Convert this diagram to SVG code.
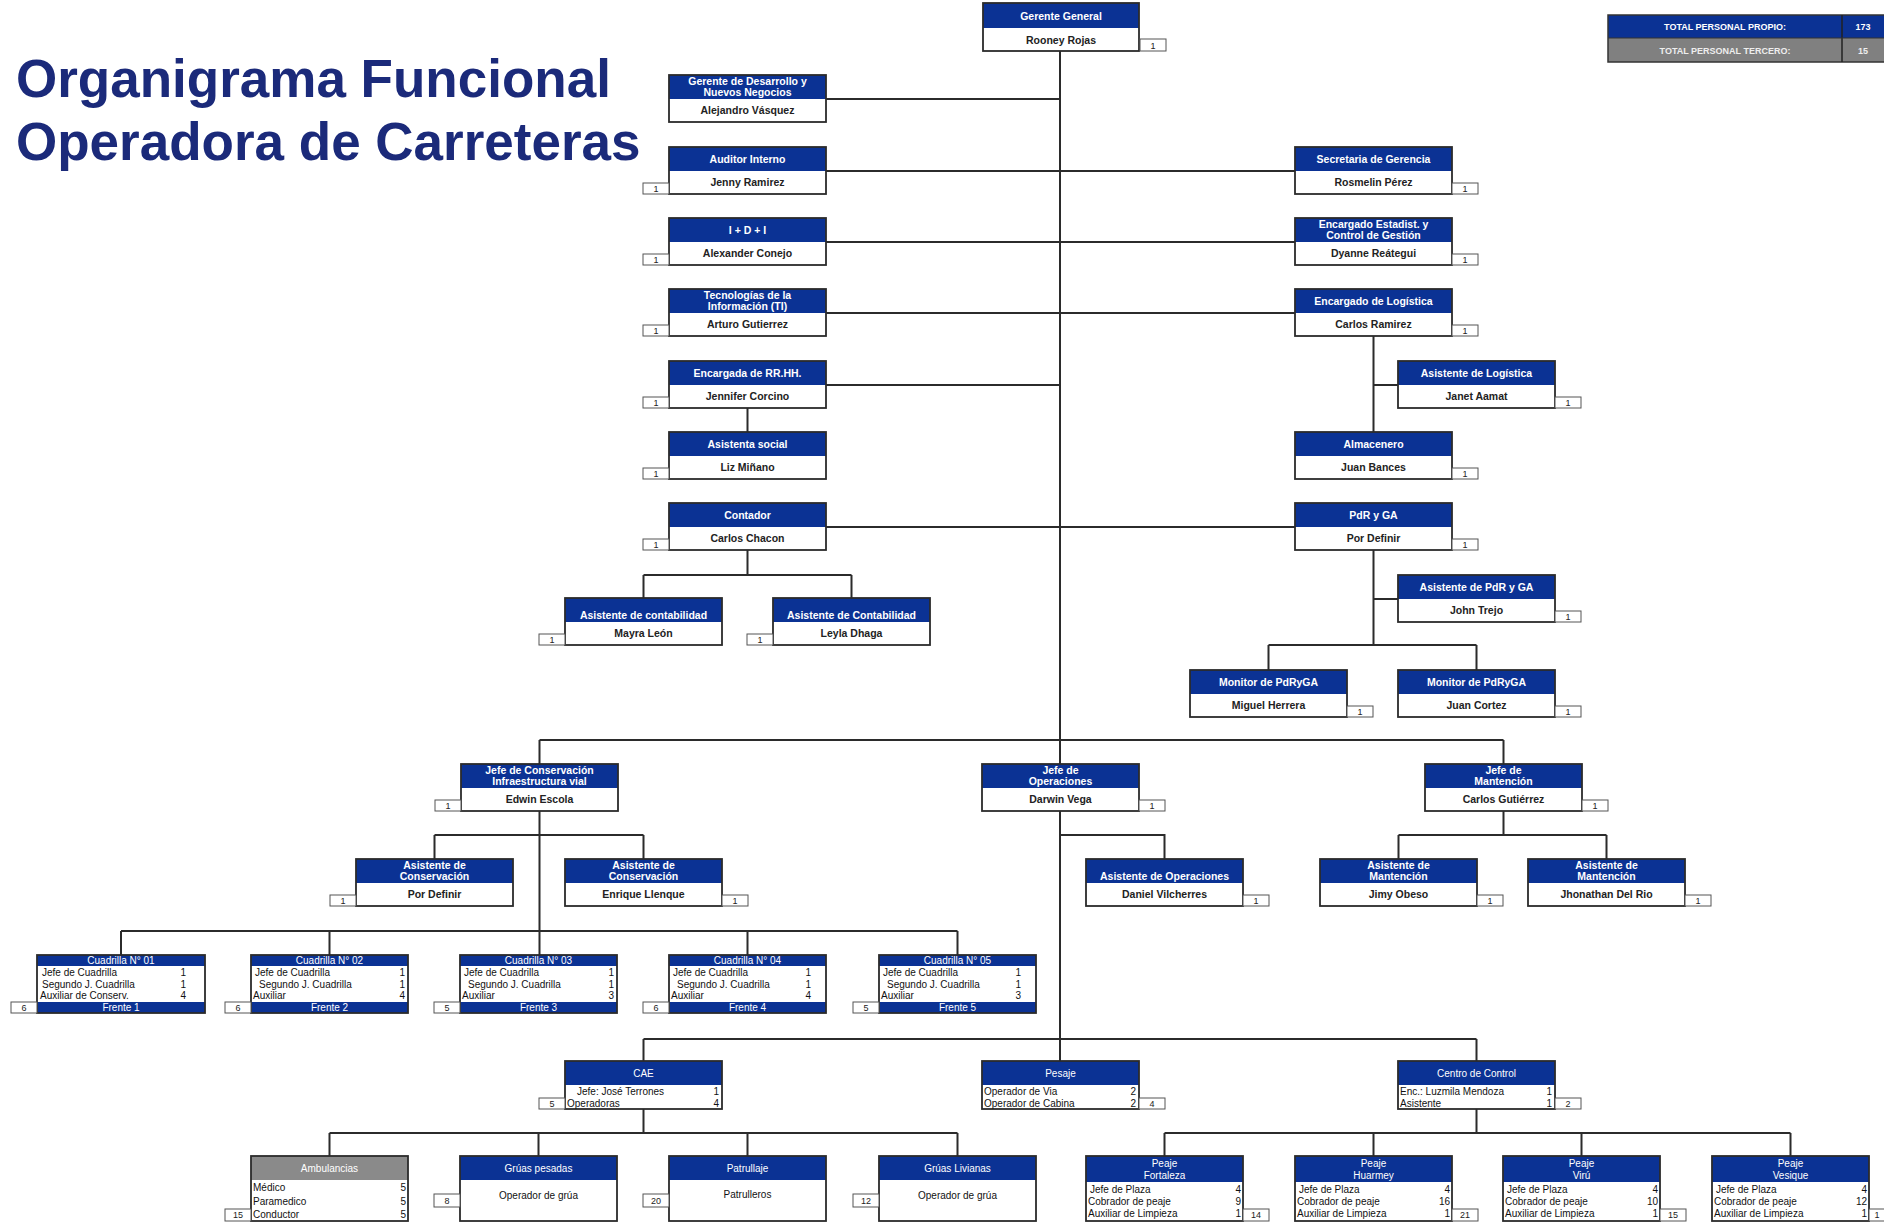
<svg xmlns="http://www.w3.org/2000/svg" width="1884" height="1232" viewBox="0 0 1884 1232">
<style>
.b{fill:#fff}
.h{fill:#0b3294}
.g{fill:#8a8a8a}
.f{fill:none;stroke:#2b2b2b;stroke-width:1.8}
.c{fill:#fff;stroke:#555;stroke-width:1}
.ht{font-family:"Liberation Sans",Arial,sans-serif;font-weight:bold;font-size:10.5px;fill:#fff;text-anchor:middle}
.nt{font-family:"Liberation Sans",Arial,sans-serif;font-weight:bold;font-size:10.5px;fill:#222;text-anchor:middle}
.ct{font-family:"Liberation Sans",Arial,sans-serif;font-size:9px;fill:#222;text-anchor:middle}
.rt{font-family:"Liberation Sans Narrow","Arial Narrow","Liberation Sans",sans-serif;font-size:10px;fill:#111}
.rn{text-anchor:end}
.wt{fill:#fff;text-anchor:middle}
.conn path{fill:none;stroke:#2b2b2b;stroke-width:2}
.title{font-family:"Liberation Sans",Arial,sans-serif;font-weight:bold;font-size:53px;fill:#1b2a7a}
.tt{font-family:"Liberation Sans",Arial,sans-serif;font-weight:bold;font-size:9px;text-anchor:middle}
</style>

<text class="title" x="16" y="97">Organigrama Funcional</text>
<text class="title" x="16" y="160">Operadora de Carreteras</text>

<g id="totales">
<rect x="1608" y="15" width="276" height="23" fill="#0b3294"/>
<rect x="1608" y="38" width="276" height="24" fill="#808080"/>
<rect x="1608" y="15" width="278" height="47" fill="none" stroke="#333" stroke-width="1.5"/>
<line x1="1842" y1="15" x2="1842" y2="62" stroke="#222" stroke-width="1.5"/>
<line x1="1608" y1="38" x2="1884" y2="38" stroke="#333" stroke-width="1"/>
<text class="tt" x="1725" y="30" fill="#fff">TOTAL PERSONAL PROPIO:</text>
<text class="tt" x="1863" y="30" fill="#fff">173</text>
<text class="tt" x="1725" y="54" fill="#eee">TOTAL PERSONAL TERCERO:</text>
<text class="tt" x="1863" y="54" fill="#eee">15</text>
</g>

<g class="conn" id="connectors">
<path d="M1060 51V1061"/>
<path d="M826 99H1060M826 171H1060M826 242H1060M826 313H1060M826 385H1060"/>
<path d="M1060 171H1295M1060 242H1295M1060 313H1295"/>
<path d="M826 527H1295"/>
<path d="M747.5 408V432"/>
<path d="M1373.5 336V432M1373.5 385H1398"/>
<path d="M747.5 550V575M643.5 575H851.5M643.5 575V598M851.5 575V598"/>
<path d="M1373.5 550V645M1373.5 599H1398M1268.5 645H1476.5M1268.5 645V670M1476.5 645V670"/>
<path d="M539.5 740H1503.5M539.5 740V764M1503.5 740V764"/>
<path d="M539.5 811V955M434.5 835H643.5M434.5 835V859M643.5 835V859"/>
<path d="M1060 835H1164.5V859"/>
<path d="M1503.5 811V835M1398.5 835H1606.5M1398.5 835V859M1606.5 835V859"/>
<path d="M121 931H957.5M121 931V955M329.5 931V955M747.5 931V955M957.5 931V955"/>
<path d="M643.5 1039H1476.5M643.5 1039V1061M1476.5 1039V1061"/>
<path d="M643.5 1109V1133M329.5 1133H957.5M329.5 1133V1156M538.5 1133V1156M747.5 1133V1156M957.5 1133V1156"/>
<path d="M1476.5 1109V1133M1164.5 1133H1790.5M1164.5 1133V1156M1373.5 1133V1156M1581.5 1133V1156M1790.5 1133V1156"/>
</g>

<g id="gerente-general">
<rect class="b" x="983" y="3" width="156" height="48"/><rect class="h" x="983" y="3" width="156" height="25"/><rect class="f" x="983" y="3" width="156" height="48"/>
<text class="ht" x="1061" y="20" font-size="12">Gerente General</text>
<text class="nt" x="1061" y="44" font-size="12">Rooney Rojas</text>
<rect class="c" x="1140" y="39" width="26" height="12"/><text class="ct" x="1153" y="48.5">1</text>
</g>

<g id="gerente-desarrollo">
<rect class="b" x="669" y="75" width="157" height="47"/><rect class="h" x="669" y="75" width="157" height="24"/><rect class="f" x="669" y="75" width="157" height="47"/>
<text class="ht" x="747.5" y="85">Gerente de Desarrollo y</text>
<text class="ht" x="747.5" y="96">Nuevos Negocios</text>
<text class="nt" x="747.5" y="114">Alejandro Vásquez</text>
</g>

<g id="auditor">
<rect class="b" x="669" y="147" width="157" height="47"/><rect class="h" x="669" y="147" width="157" height="24"/><rect class="f" x="669" y="147" width="157" height="47"/>
<text class="ht" x="747.5" y="163">Auditor Interno</text>
<text class="nt" x="747.5" y="186">Jenny Ramirez</text>
<rect class="c" x="643" y="183" width="26" height="11"/><text class="ct" x="656" y="191.5">1</text>
</g>

<g id="idi">
<rect class="b" x="669" y="218" width="157" height="47"/><rect class="h" x="669" y="218" width="157" height="24"/><rect class="f" x="669" y="218" width="157" height="47"/>
<text class="ht" x="747.5" y="234">I + D + I</text>
<text class="nt" x="747.5" y="257">Alexander Conejo</text>
<rect class="c" x="643" y="254" width="26" height="11"/><text class="ct" x="656" y="262.5">1</text>
</g>

<g id="ti">
<rect class="b" x="669" y="289" width="157" height="47"/><rect class="h" x="669" y="289" width="157" height="24"/><rect class="f" x="669" y="289" width="157" height="47"/>
<text class="ht" x="747.5" y="299">Tecnologías de la</text>
<text class="ht" x="747.5" y="310">Información (TI)</text>
<text class="nt" x="747.5" y="328">Arturo Gutierrez</text>
<rect class="c" x="643" y="325" width="26" height="11"/><text class="ct" x="656" y="333.5">1</text>
</g>

<g id="rrhh">
<rect class="b" x="669" y="361" width="157" height="47"/><rect class="h" x="669" y="361" width="157" height="24"/><rect class="f" x="669" y="361" width="157" height="47"/>
<text class="ht" x="747.5" y="377">Encargada de RR.HH.</text>
<text class="nt" x="747.5" y="400">Jennifer Corcino</text>
<rect class="c" x="643" y="397" width="26" height="11"/><text class="ct" x="656" y="405.5">1</text>
</g>

<g id="asistenta-social">
<rect class="b" x="669" y="432" width="157" height="47"/><rect class="h" x="669" y="432" width="157" height="24"/><rect class="f" x="669" y="432" width="157" height="47"/>
<text class="ht" x="747.5" y="448">Asistenta social</text>
<text class="nt" x="747.5" y="471">Liz Miñano</text>
<rect class="c" x="643" y="468" width="26" height="11"/><text class="ct" x="656" y="476.5">1</text>
</g>

<g id="contador">
<rect class="b" x="669" y="503" width="157" height="47"/><rect class="h" x="669" y="503" width="157" height="24"/><rect class="f" x="669" y="503" width="157" height="47"/>
<text class="ht" x="747.5" y="519">Contador</text>
<text class="nt" x="747.5" y="542">Carlos Chacon</text>
<rect class="c" x="643" y="539" width="26" height="11"/><text class="ct" x="656" y="547.5">1</text>
</g>

<g id="asist-contab-1">
<rect class="b" x="565" y="598" width="157" height="47"/><rect class="h" x="565" y="598" width="157" height="24"/><rect class="f" x="565" y="598" width="157" height="47"/>
<text class="ht" x="643.5" y="619">Asistente de contabilidad</text>
<text class="nt" x="643.5" y="637">Mayra León</text>
<rect class="c" x="539" y="634" width="26" height="11"/><text class="ct" x="552" y="642.5">1</text>
</g>

<g id="asist-contab-2">
<rect class="b" x="773" y="598" width="157" height="47"/><rect class="h" x="773" y="598" width="157" height="24"/><rect class="f" x="773" y="598" width="157" height="47"/>
<text class="ht" x="851.5" y="619">Asistente de Contabilidad</text>
<text class="nt" x="851.5" y="637">Leyla Dhaga</text>
<rect class="c" x="747" y="634" width="26" height="11"/><text class="ct" x="760" y="642.5">1</text>
</g>

<g id="secretaria">
<rect class="b" x="1295" y="147" width="157" height="47"/><rect class="h" x="1295" y="147" width="157" height="24"/><rect class="f" x="1295" y="147" width="157" height="47"/>
<text class="ht" x="1373.5" y="163">Secretaria de Gerencia</text>
<text class="nt" x="1373.5" y="186">Rosmelin Pérez</text>
<rect class="c" x="1452" y="183" width="26" height="11"/><text class="ct" x="1465" y="191.5">1</text>
</g>

<g id="estadistica">
<rect class="b" x="1295" y="218" width="157" height="47"/><rect class="h" x="1295" y="218" width="157" height="24"/><rect class="f" x="1295" y="218" width="157" height="47"/>
<text class="ht" x="1373.5" y="228">Encargado Estadist. y</text>
<text class="ht" x="1373.5" y="239">Control de Gestión</text>
<text class="nt" x="1373.5" y="257">Dyanne Reátegui</text>
<rect class="c" x="1452" y="254" width="26" height="11"/><text class="ct" x="1465" y="262.5">1</text>
</g>

<g id="logistica">
<rect class="b" x="1295" y="289" width="157" height="47"/><rect class="h" x="1295" y="289" width="157" height="24"/><rect class="f" x="1295" y="289" width="157" height="47"/>
<text class="ht" x="1373.5" y="305">Encargado de Logística</text>
<text class="nt" x="1373.5" y="328">Carlos Ramirez</text>
<rect class="c" x="1452" y="325" width="26" height="11"/><text class="ct" x="1465" y="333.5">1</text>
</g>

<g id="asist-logistica">
<rect class="b" x="1398" y="361" width="157" height="47"/><rect class="h" x="1398" y="361" width="157" height="24"/><rect class="f" x="1398" y="361" width="157" height="47"/>
<text class="ht" x="1476.5" y="377">Asistente de Logística</text>
<text class="nt" x="1476.5" y="400">Janet Aamat</text>
<rect class="c" x="1555" y="397" width="26" height="11"/><text class="ct" x="1568" y="405.5">1</text>
</g>

<g id="almacenero">
<rect class="b" x="1295" y="432" width="157" height="47"/><rect class="h" x="1295" y="432" width="157" height="24"/><rect class="f" x="1295" y="432" width="157" height="47"/>
<text class="ht" x="1373.5" y="448">Almacenero</text>
<text class="nt" x="1373.5" y="471">Juan Bances</text>
<rect class="c" x="1452" y="468" width="26" height="11"/><text class="ct" x="1465" y="476.5">1</text>
</g>

<g id="pdr">
<rect class="b" x="1295" y="503" width="157" height="47"/><rect class="h" x="1295" y="503" width="157" height="24"/><rect class="f" x="1295" y="503" width="157" height="47"/>
<text class="ht" x="1373.5" y="519">PdR y GA</text>
<text class="nt" x="1373.5" y="542">Por Definir</text>
<rect class="c" x="1452" y="539" width="26" height="11"/><text class="ct" x="1465" y="547.5">1</text>
</g>

<g id="asist-pdr">
<rect class="b" x="1398" y="575" width="157" height="47"/><rect class="h" x="1398" y="575" width="157" height="24"/><rect class="f" x="1398" y="575" width="157" height="47"/>
<text class="ht" x="1476.5" y="591">Asistente de PdR y GA</text>
<text class="nt" x="1476.5" y="614">John Trejo</text>
<rect class="c" x="1555" y="611" width="26" height="11"/><text class="ct" x="1568" y="619.5">1</text>
</g>

<g id="monitor-1">
<rect class="b" x="1190" y="670" width="157" height="47"/><rect class="h" x="1190" y="670" width="157" height="24"/><rect class="f" x="1190" y="670" width="157" height="47"/>
<text class="ht" x="1268.5" y="686">Monitor de PdRyGA</text>
<text class="nt" x="1268.5" y="709">Miguel Herrera</text>
<rect class="c" x="1347" y="706" width="26" height="11"/><text class="ct" x="1360" y="714.5">1</text>
</g>

<g id="monitor-2">
<rect class="b" x="1398" y="670" width="157" height="47"/><rect class="h" x="1398" y="670" width="157" height="24"/><rect class="f" x="1398" y="670" width="157" height="47"/>
<text class="ht" x="1476.5" y="686">Monitor de PdRyGA</text>
<text class="nt" x="1476.5" y="709">Juan Cortez</text>
<rect class="c" x="1555" y="706" width="26" height="11"/><text class="ct" x="1568" y="714.5">1</text>
</g>

<g id="jefe-conservacion">
<rect class="b" x="461" y="764" width="157" height="47"/><rect class="h" x="461" y="764" width="157" height="24"/><rect class="f" x="461" y="764" width="157" height="47"/>
<text class="ht" x="539.5" y="774">Jefe de Conservación</text>
<text class="ht" x="539.5" y="785">Infraestructura vial</text>
<text class="nt" x="539.5" y="803">Edwin Escola</text>
<rect class="c" x="435" y="800" width="26" height="11"/><text class="ct" x="448" y="808.5">1</text>
</g>

<g id="jefe-operaciones">
<rect class="b" x="982" y="764" width="157" height="47"/><rect class="h" x="982" y="764" width="157" height="24"/><rect class="f" x="982" y="764" width="157" height="47"/>
<text class="ht" x="1060.5" y="774">Jefe de</text>
<text class="ht" x="1060.5" y="785">Operaciones</text>
<text class="nt" x="1060.5" y="803">Darwin Vega</text>
<rect class="c" x="1139" y="800" width="26" height="11"/><text class="ct" x="1152" y="808.5">1</text>
</g>

<g id="jefe-mantencion">
<rect class="b" x="1425" y="764" width="157" height="47"/><rect class="h" x="1425" y="764" width="157" height="24"/><rect class="f" x="1425" y="764" width="157" height="47"/>
<text class="ht" x="1503.5" y="774">Jefe de</text>
<text class="ht" x="1503.5" y="785">Mantención</text>
<text class="nt" x="1503.5" y="803">Carlos Gutiérrez</text>
<rect class="c" x="1582" y="800" width="26" height="11"/><text class="ct" x="1595" y="808.5">1</text>
</g>

<g id="asist-conservacion-1">
<rect class="b" x="356" y="859" width="157" height="47"/><rect class="h" x="356" y="859" width="157" height="24"/><rect class="f" x="356" y="859" width="157" height="47"/>
<text class="ht" x="434.5" y="869">Asistente de</text>
<text class="ht" x="434.5" y="880">Conservación</text>
<text class="nt" x="434.5" y="898">Por Definir</text>
<rect class="c" x="330" y="895" width="26" height="11"/><text class="ct" x="343" y="903.5">1</text>
</g>

<g id="asist-conservacion-2">
<rect class="b" x="565" y="859" width="157" height="47"/><rect class="h" x="565" y="859" width="157" height="24"/><rect class="f" x="565" y="859" width="157" height="47"/>
<text class="ht" x="643.5" y="869">Asistente de</text>
<text class="ht" x="643.5" y="880">Conservación</text>
<text class="nt" x="643.5" y="898">Enrique Llenque</text>
<rect class="c" x="722" y="895" width="26" height="11"/><text class="ct" x="735" y="903.5">1</text>
</g>

<g id="asist-operaciones">
<rect class="b" x="1086" y="859" width="157" height="47"/><rect class="h" x="1086" y="859" width="157" height="24"/><rect class="f" x="1086" y="859" width="157" height="47"/>
<text class="ht" x="1164.5" y="880">Asistente de Operaciones</text>
<text class="nt" x="1164.5" y="898">Daniel Vilcherres</text>
<rect class="c" x="1243" y="895" width="26" height="11"/><text class="ct" x="1256" y="903.5">1</text>
</g>

<g id="asist-mantencion-1">
<rect class="b" x="1320" y="859" width="157" height="47"/><rect class="h" x="1320" y="859" width="157" height="24"/><rect class="f" x="1320" y="859" width="157" height="47"/>
<text class="ht" x="1398.5" y="869">Asistente de</text>
<text class="ht" x="1398.5" y="880">Mantención</text>
<text class="nt" x="1398.5" y="898">Jimy Obeso</text>
<rect class="c" x="1477" y="895" width="26" height="11"/><text class="ct" x="1490" y="903.5">1</text>
</g>

<g id="asist-mantencion-2">
<rect class="b" x="1528" y="859" width="157" height="47"/><rect class="h" x="1528" y="859" width="157" height="24"/><rect class="f" x="1528" y="859" width="157" height="47"/>
<text class="ht" x="1606.5" y="869">Asistente de</text>
<text class="ht" x="1606.5" y="880">Mantención</text>
<text class="nt" x="1606.5" y="898">Jhonathan Del Rio</text>
<rect class="c" x="1685" y="895" width="26" height="11"/><text class="ct" x="1698" y="903.5">1</text>
</g>

<g id="cuadrilla-01">
<rect class="b" x="37" y="955" width="168" height="58"/><rect class="h" x="37" y="955" width="168" height="11"/><rect class="h" x="37" y="1002" width="168" height="11"/><rect class="f" x="37" y="955" width="168" height="58"/>
<text class="rt wt" x="121" y="964">Cuadrilla N° 01</text>
<text class="rt" x="42" y="976">Jefe de Cuadrilla</text><text class="rt rn" x="186" y="976">1</text>
<text class="rt" x="42" y="988">Segundo J. Cuadrilla</text><text class="rt rn" x="186" y="988">1</text>
<text class="rt" x="40" y="999">Auxiliar de Conserv.</text><text class="rt rn" x="186" y="999">4</text>
<text class="rt wt" x="121" y="1011">Frente 1</text>
<rect class="c" x="11" y="1002" width="26" height="11"/><text class="ct" x="24" y="1010.5">6</text>
</g>

<g id="cuadrilla-02">
<rect class="b" x="251" y="955" width="157" height="58"/><rect class="h" x="251" y="955" width="157" height="11"/><rect class="h" x="251" y="1002" width="157" height="11"/><rect class="f" x="251" y="955" width="157" height="58"/>
<text class="rt wt" x="329.5" y="964">Cuadrilla N° 02</text>
<text class="rt" x="255" y="976">Jefe de Cuadrilla</text><text class="rt rn" x="405" y="976">1</text>
<text class="rt" x="259" y="988">Segundo J. Cuadrilla</text><text class="rt rn" x="405" y="988">1</text>
<text class="rt" x="253" y="999">Auxiliar</text><text class="rt rn" x="405" y="999">4</text>
<text class="rt wt" x="329.5" y="1011">Frente 2</text>
<rect class="c" x="225" y="1002" width="26" height="11"/><text class="ct" x="238" y="1010.5">6</text>
</g>

<g id="cuadrilla-03">
<rect class="b" x="460" y="955" width="157" height="58"/><rect class="h" x="460" y="955" width="157" height="11"/><rect class="h" x="460" y="1002" width="157" height="11"/><rect class="f" x="460" y="955" width="157" height="58"/>
<text class="rt wt" x="538.5" y="964">Cuadrilla N° 03</text>
<text class="rt" x="464" y="976">Jefe de Cuadrilla</text><text class="rt rn" x="614" y="976">1</text>
<text class="rt" x="468" y="988">Segundo J. Cuadrilla</text><text class="rt rn" x="614" y="988">1</text>
<text class="rt" x="462" y="999">Auxiliar</text><text class="rt rn" x="614" y="999">3</text>
<text class="rt wt" x="538.5" y="1011">Frente 3</text>
<rect class="c" x="434" y="1002" width="26" height="11"/><text class="ct" x="447" y="1010.5">5</text>
</g>

<g id="cuadrilla-04">
<rect class="b" x="669" y="955" width="157" height="58"/><rect class="h" x="669" y="955" width="157" height="11"/><rect class="h" x="669" y="1002" width="157" height="11"/><rect class="f" x="669" y="955" width="157" height="58"/>
<text class="rt wt" x="747.5" y="964">Cuadrilla N° 04</text>
<text class="rt" x="673" y="976">Jefe de Cuadrilla</text><text class="rt rn" x="811" y="976">1</text>
<text class="rt" x="677" y="988">Segundo J. Cuadrilla</text><text class="rt rn" x="811" y="988">1</text>
<text class="rt" x="671" y="999">Auxiliar</text><text class="rt rn" x="811" y="999">4</text>
<text class="rt wt" x="747.5" y="1011">Frente 4</text>
<rect class="c" x="643" y="1002" width="26" height="11"/><text class="ct" x="656" y="1010.5">6</text>
</g>

<g id="cuadrilla-05">
<rect class="b" x="879" y="955" width="157" height="58"/><rect class="h" x="879" y="955" width="157" height="11"/><rect class="h" x="879" y="1002" width="157" height="11"/><rect class="f" x="879" y="955" width="157" height="58"/>
<text class="rt wt" x="957.5" y="964">Cuadrilla N° 05</text>
<text class="rt" x="883" y="976">Jefe de Cuadrilla</text><text class="rt rn" x="1021" y="976">1</text>
<text class="rt" x="887" y="988">Segundo J. Cuadrilla</text><text class="rt rn" x="1021" y="988">1</text>
<text class="rt" x="881" y="999">Auxiliar</text><text class="rt rn" x="1021" y="999">3</text>
<text class="rt wt" x="957.5" y="1011">Frente 5</text>
<rect class="c" x="853" y="1002" width="26" height="11"/><text class="ct" x="866" y="1010.5">5</text>
</g>

<g id="cae">
<rect class="b" x="565" y="1061" width="157" height="48"/><rect class="h" x="565" y="1061" width="157" height="24"/><rect class="f" x="565" y="1061" width="157" height="48"/>
<text class="rt wt" x="643.5" y="1077">CAE</text>
<text class="rt" x="577" y="1095">Jefe: José Terrones</text><text class="rt rn" x="719" y="1095">1</text>
<text class="rt" x="567" y="1107">Operadoras</text><text class="rt rn" x="719" y="1107">4</text>
<rect class="c" x="539" y="1098" width="26" height="11"/><text class="ct" x="552" y="1106.5">5</text>
</g>

<g id="pesaje">
<rect class="b" x="982" y="1061" width="157" height="48"/><rect class="h" x="982" y="1061" width="157" height="24"/><rect class="f" x="982" y="1061" width="157" height="48"/>
<text class="rt wt" x="1060.5" y="1077">Pesaje</text>
<text class="rt" x="984" y="1095">Operador de Via</text><text class="rt rn" x="1136" y="1095">2</text>
<text class="rt" x="984" y="1107">Operador de Cabina</text><text class="rt rn" x="1136" y="1107">2</text>
<rect class="c" x="1139" y="1098" width="26" height="11"/><text class="ct" x="1152" y="1106.5">4</text>
</g>

<g id="centro-control">
<rect class="b" x="1398" y="1061" width="157" height="48"/><rect class="h" x="1398" y="1061" width="157" height="24"/><rect class="f" x="1398" y="1061" width="157" height="48"/>
<text class="rt wt" x="1476.5" y="1077">Centro de Control</text>
<text class="rt" x="1400" y="1095" font-size="9">Enc.: Luzmila Mendoza</text><text class="rt rn" x="1552" y="1095">1</text>
<text class="rt" x="1400" y="1107">Asistente</text><text class="rt rn" x="1552" y="1107">1</text>
<rect class="c" x="1555" y="1098" width="26" height="11"/><text class="ct" x="1568" y="1106.5">2</text>
</g>

<g id="ambulancias">
<rect class="b" x="251" y="1156" width="157" height="65"/><rect class="g" x="251" y="1156" width="157" height="24"/><rect class="f" x="251" y="1156" width="157" height="65"/>
<text class="rt wt" x="329.5" y="1172">Ambulancias</text>
<text class="rt" x="253" y="1191">Médico</text><text class="rt rn" x="406" y="1191">5</text>
<text class="rt" x="253" y="1205">Paramedico</text><text class="rt rn" x="406" y="1205">5</text>
<text class="rt" x="253" y="1218">Conductor</text><text class="rt rn" x="406" y="1218">5</text>
<rect class="c" x="225" y="1209" width="26" height="12"/><text class="ct" x="238" y="1218">15</text>
</g>

<g id="gruas-pesadas">
<rect class="b" x="460" y="1156" width="157" height="65"/><rect class="h" x="460" y="1156" width="157" height="24"/><rect class="f" x="460" y="1156" width="157" height="65"/>
<text class="rt wt" x="538.5" y="1172">Grúas pesadas</text>
<text class="rt" x="538.5" y="1199" text-anchor="middle">Operador de grúa</text>
<rect class="c" x="434" y="1194" width="26" height="13"/><text class="ct" x="447" y="1203.5">8</text>
</g>

<g id="patrullaje">
<rect class="b" x="669" y="1156" width="157" height="65"/><rect class="h" x="669" y="1156" width="157" height="24"/><rect class="f" x="669" y="1156" width="157" height="65"/>
<text class="rt wt" x="747.5" y="1172">Patrullaje</text>
<text class="rt" x="747.5" y="1198" text-anchor="middle">Patrulleros</text>
<rect class="c" x="643" y="1194" width="26" height="13"/><text class="ct" x="656" y="1203.5">20</text>
</g>

<g id="gruas-livianas">
<rect class="b" x="879" y="1156" width="157" height="65"/><rect class="h" x="879" y="1156" width="157" height="24"/><rect class="f" x="879" y="1156" width="157" height="65"/>
<text class="rt wt" x="957.5" y="1172">Grúas Livianas</text>
<text class="rt" x="957.5" y="1199" text-anchor="middle">Operador de grúa</text>
<rect class="c" x="853" y="1194" width="26" height="13"/><text class="ct" x="866" y="1203.5">12</text>
</g>

<g id="peaje-fortaleza">
<rect class="b" x="1086" y="1156" width="157" height="65"/><rect class="h" x="1086" y="1156" width="157" height="26"/><rect class="f" x="1086" y="1156" width="157" height="65"/>
<text class="rt wt" x="1164.5" y="1167">Peaje</text><text class="rt wt" x="1164.5" y="1179">Fortaleza</text>
<text class="rt" x="1090" y="1193">Jefe de Plaza</text><text class="rt rn" x="1241" y="1193">4</text>
<text class="rt" x="1088" y="1205">Cobrador de peaje</text><text class="rt rn" x="1241" y="1205">9</text>
<text class="rt" x="1088" y="1217">Auxiliar de Limpieza</text><text class="rt rn" x="1241" y="1217">1</text>
<rect class="c" x="1243" y="1209" width="26" height="12"/><text class="ct" x="1256" y="1218">14</text>
</g>

<g id="peaje-huarmey">
<rect class="b" x="1295" y="1156" width="157" height="65"/><rect class="h" x="1295" y="1156" width="157" height="26"/><rect class="f" x="1295" y="1156" width="157" height="65"/>
<text class="rt wt" x="1373.5" y="1167">Peaje</text><text class="rt wt" x="1373.5" y="1179">Huarmey</text>
<text class="rt" x="1299" y="1193">Jefe de Plaza</text><text class="rt rn" x="1450" y="1193">4</text>
<text class="rt" x="1297" y="1205">Cobrador de peaje</text><text class="rt rn" x="1450" y="1205">16</text>
<text class="rt" x="1297" y="1217">Auxiliar de Limpieza</text><text class="rt rn" x="1450" y="1217">1</text>
<rect class="c" x="1452" y="1209" width="26" height="12"/><text class="ct" x="1465" y="1218">21</text>
</g>

<g id="peaje-viru">
<rect class="b" x="1503" y="1156" width="157" height="65"/><rect class="h" x="1503" y="1156" width="157" height="26"/><rect class="f" x="1503" y="1156" width="157" height="65"/>
<text class="rt wt" x="1581.5" y="1167">Peaje</text><text class="rt wt" x="1581.5" y="1179">Virú</text>
<text class="rt" x="1507" y="1193">Jefe de Plaza</text><text class="rt rn" x="1658" y="1193">4</text>
<text class="rt" x="1505" y="1205">Cobrador de peaje</text><text class="rt rn" x="1658" y="1205">10</text>
<text class="rt" x="1505" y="1217">Auxiliar de Limpieza</text><text class="rt rn" x="1658" y="1217">1</text>
<rect class="c" x="1660" y="1209" width="26" height="12"/><text class="ct" x="1673" y="1218">15</text>
</g>

<g id="peaje-vesique">
<rect class="b" x="1712" y="1156" width="157" height="65"/><rect class="h" x="1712" y="1156" width="157" height="26"/><rect class="f" x="1712" y="1156" width="157" height="65"/>
<text class="rt wt" x="1790.5" y="1167">Peaje</text><text class="rt wt" x="1790.5" y="1179">Vesique</text>
<text class="rt" x="1716" y="1193">Jefe de Plaza</text><text class="rt rn" x="1867" y="1193">4</text>
<text class="rt" x="1714" y="1205">Cobrador de peaje</text><text class="rt rn" x="1867" y="1205">12</text>
<text class="rt" x="1714" y="1217">Auxiliar de Limpieza</text><text class="rt rn" x="1867" y="1217">1</text>
<rect class="c" x="1869" y="1209" width="26" height="12"/><text class="ct" x="1877" y="1218">1</text>
</g>
</svg>
